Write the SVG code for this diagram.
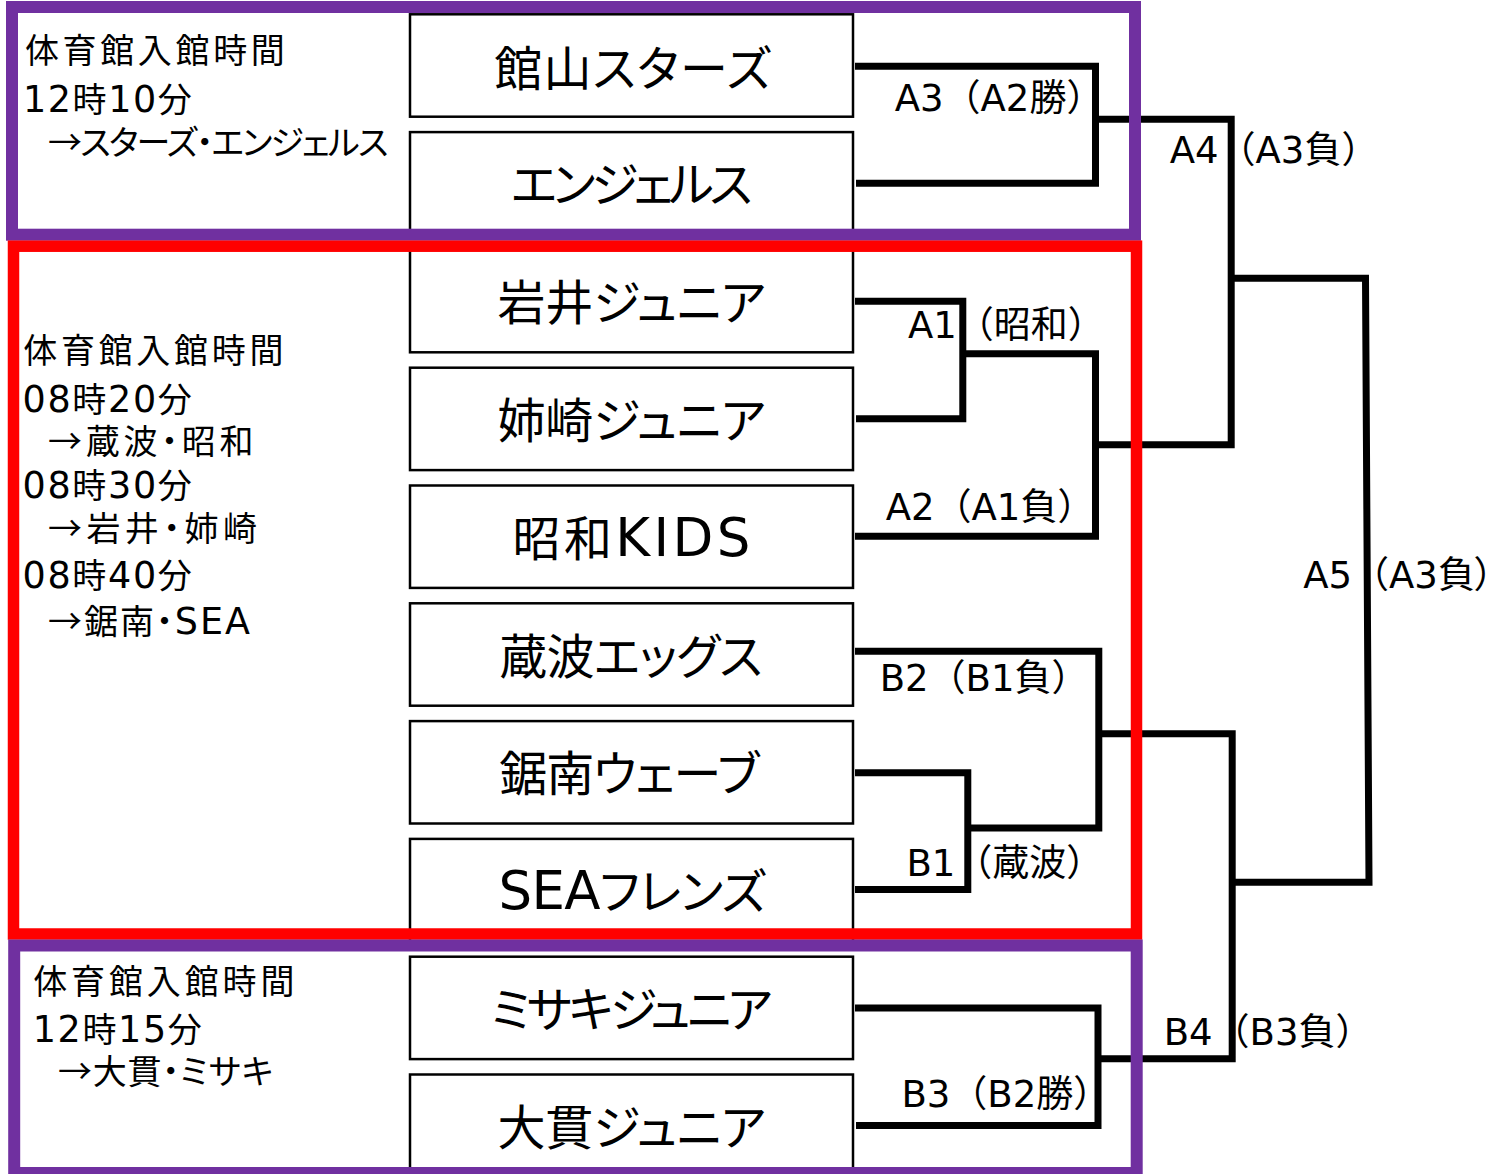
<svg xmlns="http://www.w3.org/2000/svg" width="1494" height="1174" viewBox="0 0 1494 1174">
<style>
text { font-family: "DejaVu Sans", "Noto Sans CJK JP", sans-serif; fill: #000; }
.cjk { font-family: "Noto Sans CJK JP", sans-serif; }
.team { font-size: 48px; font-feature-settings: "palt" 1; }
.lat { font-size: 53px; }
.lbl { font-size: 37px; }
.pt { font-feature-settings: "palt" 1; }
.info { font-size: 34px; font-feature-settings: "palt" 1; }
.d { font-size: 36.5px; }
.box { fill: #fff; stroke: #000; stroke-width: 2.5; }
.ln { fill: none; stroke: #000; stroke-width: 7; stroke-linejoin: miter; stroke-linecap: butt; }
.fp { fill: none; stroke: #7030A0; stroke-width: 12; }
.fr { fill: none; stroke: #FF0000; stroke-width: 11.5; }
</style>
<rect x="0" y="0" width="1494" height="1174" fill="#fff"/>

<g id="team-tateyama"><rect class="box" x="410" y="14.3" width="443" height="102.4"/><text class="team" x="494.2" y="86" textLength="276.6" lengthAdjust="spacing">館山スターズ</text></g>
<g id="team-angels"><rect class="box" x="410" y="132.1" width="443" height="102.4"/><text class="team" x="511" y="202.3" textLength="241.5" lengthAdjust="spacing">エンジェルス</text></g>
<g id="team-iwai"><rect class="box" x="410" y="249.9" width="443" height="102.4"/><text class="team" x="497.5" y="320.1" textLength="268.3" lengthAdjust="spacing">岩井ジュニア</text></g>
<g id="team-anesaki"><rect class="box" x="410" y="367.7" width="443" height="102.4"/><text class="team" x="497.5" y="437.9" textLength="268.3" lengthAdjust="spacing">姉崎ジュニア</text></g>
<g id="team-showa"><rect class="box" x="410" y="485.5" width="443" height="102.4"/><text class="team" x="512.5" y="555.7" textLength="238" lengthAdjust="spacing">昭和<tspan class="lat">KIDS</tspan></text></g>
<g id="team-kurosawa"><rect class="box" x="410" y="603.3" width="443" height="102.4"/><text class="team" x="499.2" y="673.5" textLength="263.3" lengthAdjust="spacing">蔵波エッグス</text></g>
<g id="team-kyonan"><rect class="box" x="410" y="721.1" width="443" height="102.4"/><text class="team" x="499.2" y="791.3" textLength="260" lengthAdjust="spacing">鋸南ウェーブ</text></g>
<g id="team-sea"><rect class="box" x="410" y="838.9" width="443" height="102.4"/><text class="team" x="498.5" y="909.2" textLength="267.3" lengthAdjust="spacing"><tspan class="lat">SEA</tspan>フレンズ</text></g>
<g id="team-misaki"><rect class="box" x="410" y="956.7" width="443" height="102.4"/><text class="team" x="490.8" y="1026.9" textLength="281.7" lengthAdjust="spacing">ミサキジュニア</text></g>
<g id="team-onuki"><rect class="box" x="410" y="1074.5" width="443" height="102.4"/><text class="team" x="497.5" y="1144.7" textLength="268.3" lengthAdjust="spacing">大貫ジュニア</text></g>

<g id="connectors">
<path class="ln" d="M855,66.3 H1095.5 V183.3 H856"/>
<path class="ln" d="M855,301.3 H962.8 V418.7 H856"/>
<path class="ln" d="M962.8,353.7 H1095.5 V536.3 H855"/>
<path class="ln" d="M1095.5,119.3 H1231.2 V444.7 H1095.5"/>
<path class="ln" d="M1231.2,278.2 H1365.5 L1369,882.2 H1232.2"/>
<path class="ln" d="M855,772.8 H967.8 V889.5 H855"/>
<path class="ln" d="M855,651.2 H1098.8 V828 H967.8"/>
<path class="ln" d="M1098.8,733.8 H1232.2 V1058.8 H1098"/>
<path class="ln" d="M855,1008 H1098 V1125.5 H856"/>
</g>

<g id="labels">
<text class="lbl" x="894.7" y="110.7">A3（A2勝）</text>
<text class="lbl" x="1169.7" y="162.7">A4（A3負）</text>
<text class="lbl" x="908" y="338.3">A1（昭和）</text>
<text class="lbl" x="885.7" y="520">A2（A1負）</text>
<text class="lbl" x="1303.2" y="588.3">A5（A3負<tspan class="pt">）</tspan></text>
<text class="lbl" x="879.7" y="690.7">B2（B1負）</text>
<text class="lbl" x="906.4" y="876">B1（蔵波）</text>
<text class="lbl" x="901.4" y="1107.3">B3（B2勝）</text>
<text class="lbl" x="1163.7" y="1045">B4（B3負）</text>
</g>

<g id="info-top">
<text class="info" x="24.9" y="62.5" textLength="259.9" lengthAdjust="spacing">体育館入館時間</text>
<text class="info" x="23" y="111.7" textLength="168.8" lengthAdjust="spacing"><tspan class="d">12</tspan>時<tspan class="d">10</tspan>分</text>
<text class="info" x="48" y="154.5" textLength="340.5" lengthAdjust="spacing"><tspan class="cjk">→</tspan>スターズ・エンジェルス</text>
</g>
<g id="info-mid">
<text class="info" x="23.2" y="362.5" textLength="260.3" lengthAdjust="spacing">体育館入館時間</text>
<text class="info" x="22.6" y="411.7" textLength="169.2" lengthAdjust="spacing"><tspan class="d">08</tspan>時<tspan class="d">20</tspan>分</text>
<text class="info" x="48" y="454.2" textLength="205.5" lengthAdjust="spacing"><tspan class="cjk">→</tspan>蔵波・昭和</text>
<text class="info" x="22.6" y="498.3" textLength="169.2" lengthAdjust="spacing"><tspan class="d">08</tspan>時<tspan class="d">30</tspan>分</text>
<text class="info" x="48" y="541" textLength="209" lengthAdjust="spacing"><tspan class="cjk">→</tspan>岩井・姉崎</text>
<text class="info" x="22.6" y="588.3" textLength="169.2" lengthAdjust="spacing"><tspan class="d">08</tspan>時<tspan class="d">40</tspan>分</text>
<text class="info" x="48" y="634" textLength="202" lengthAdjust="spacing"><tspan class="cjk">→</tspan>鋸南・<tspan class="d">SEA</tspan></text>
</g>
<g id="info-bottom">
<text class="info" x="33.2" y="994.2" textLength="261.3" lengthAdjust="spacing">体育館入館時間</text>
<text class="info" x="32.7" y="1041.7" textLength="169.1" lengthAdjust="spacing"><tspan class="d">12</tspan>時<tspan class="d">15</tspan>分</text>
<text class="info" x="58" y="1084" textLength="215.5" lengthAdjust="spacing"><tspan class="cjk">→</tspan>大貫・ミサキ</text>
</g>

<g id="frames">
<rect class="fp" x="12" y="7" width="1123" height="227.7"/>
<rect class="fr" x="13.5" y="246.2" width="1123" height="687.8"/>
<rect class="fp" x="14.2" y="945.5" width="1122.5" height="227.5"/>
</g>
</svg>
